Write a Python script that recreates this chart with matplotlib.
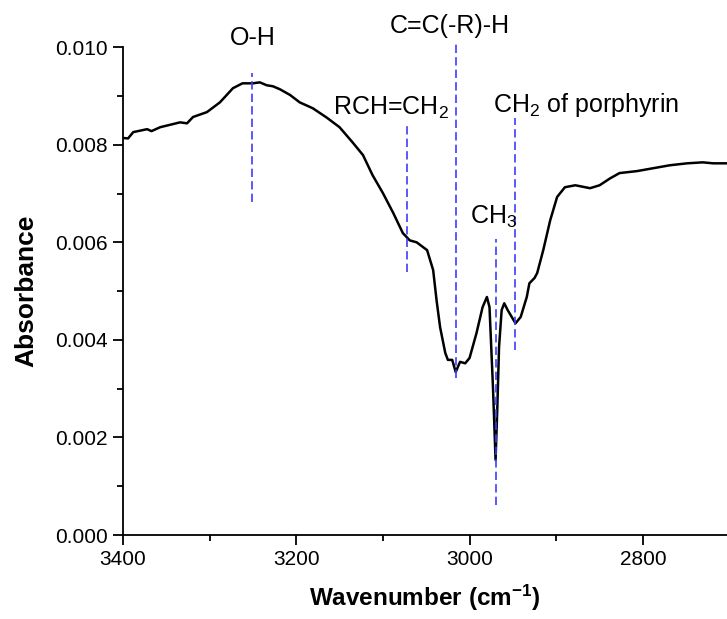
import matplotlib.pyplot as plt
from matplotlib.ticker import MultipleLocator

plt.rcParams['font.family'] = ['Liberation Sans', 'DejaVu Sans']
plt.rcParams['mathtext.fontset'] = 'custom'
plt.rcParams['mathtext.rm'] = 'Liberation Sans'
plt.rcParams['mathtext.it'] = 'Liberation Sans:italic'
plt.rcParams['mathtext.bf'] = 'Liberation Sans:bold'

# FTIR spectrum
wavenumber = [3400, 3394, 3388, 3372, 3367, 3357, 3334, 3326, 3319, 3303,
              3288, 3273, 3262, 3250, 3242, 3234, 3227, 3219, 3207, 3196,
              3181, 3165, 3150, 3135, 3123, 3112, 3100, 3088, 3077, 3069,
              3061, 3049, 3042, 3038, 3034, 3028, 3025, 3020, 3016, 3011,
              3005, 3000, 2992, 2985, 2980, 2977, 2973, 2970, 2968, 2966,
              2963, 2960, 2956, 2947, 2941, 2934, 2931, 2925, 2922, 2915,
              2907, 2899, 2890, 2878, 2861, 2850, 2838, 2827, 2807, 2788,
              2769, 2749, 2731, 2719, 2703]
absorbance = [0.00814, 0.00813, 0.00826, 0.00832, 0.00828, 0.00836, 0.00846, 0.00844, 0.00857, 0.00867,
              0.00887, 0.00916, 0.00926, 0.00926, 0.00928, 0.00922, 0.00920, 0.00914, 0.00902, 0.00887,
              0.00875, 0.00856, 0.00836, 0.00805, 0.00779, 0.00738, 0.00701, 0.00660, 0.00619, 0.00604,
              0.00600, 0.00584, 0.00543, 0.00480, 0.00426, 0.00373, 0.00359, 0.00359, 0.00334, 0.00355,
              0.00352, 0.00363, 0.00414, 0.00467, 0.00488, 0.00467, 0.00303, 0.00154, 0.00260, 0.00385,
              0.00461, 0.00475, 0.00461, 0.00434, 0.00447, 0.00488, 0.00516, 0.00527, 0.00537, 0.00584,
              0.00645, 0.00693, 0.00713, 0.00717, 0.00711, 0.00717, 0.00731, 0.00742, 0.00746, 0.00752,
              0.00758, 0.00762, 0.00764, 0.00762, 0.00762]

# band markers: position, dashed line span, label and label anchor (left, baseline)
band_pos = [3251, 3072, 3016, 2969, 2948]
band_lo = [0.00682, 0.00539, 0.00322, 0.00061, 0.00379]
band_hi = [0.00948, 0.00840, 0.01008, 0.00606, 0.00854]
band_labels = ['O-H', 'RCH=CH$_2$', 'C=C(-R)-H', 'CH$_3$', 'CH$_2$ of porphyrin']
label_x = [3276, 3158, 3092, 3000, 2973]
label_y = [0.01004, 0.00861, 0.01029, 0.00639, 0.00867]

fig = plt.figure(figsize=(7.27, 6.19), dpi=100)
ax = fig.add_axes([0.169, 0.1357, 0.831, 0.788])

ax.plot(wavenumber, absorbance, color='black', lw=1.8)

for x, lo, hi in zip(band_pos, band_lo, band_hi):
    ax.plot([x, x], [lo, hi], color='#3c3cff', lw=1.2, ls=(0, (5, 2.5)), clip_on=False)

for txt, x, y in zip(band_labels, label_x, label_y):
    ax.text(x, y, txt, fontsize=18, ha='left', va='baseline', clip_on=False)

ax.set_xlim(3400, 2703)
ax.set_ylim(0, 0.010)
ax.xaxis.set_major_locator(MultipleLocator(200))
ax.xaxis.set_minor_locator(MultipleLocator(100))
ax.yaxis.set_major_locator(MultipleLocator(0.002))
ax.yaxis.set_minor_locator(MultipleLocator(0.001))
ax.yaxis.set_major_formatter(plt.FormatStrFormatter('%.3f'))

ax.spines['top'].set_visible(False)
ax.spines['right'].set_visible(False)
for s in ['left', 'bottom']:
    ax.spines[s].set_linewidth(1.3)
ax.tick_params(which='major', direction='out', length=7, width=1.3, labelsize=15, pad=4)
ax.tick_params(which='minor', direction='out', length=4, width=1.3)

ax.set_xlabel('Wavenumber (cm$^{\\mathregular{-1}}$)', fontsize=17.5, fontweight='bold', labelpad=10)
ax.set_ylabel('Absorbance', fontsize=19, fontweight='bold', labelpad=12)

fig.savefig('out.png', dpi=100)
